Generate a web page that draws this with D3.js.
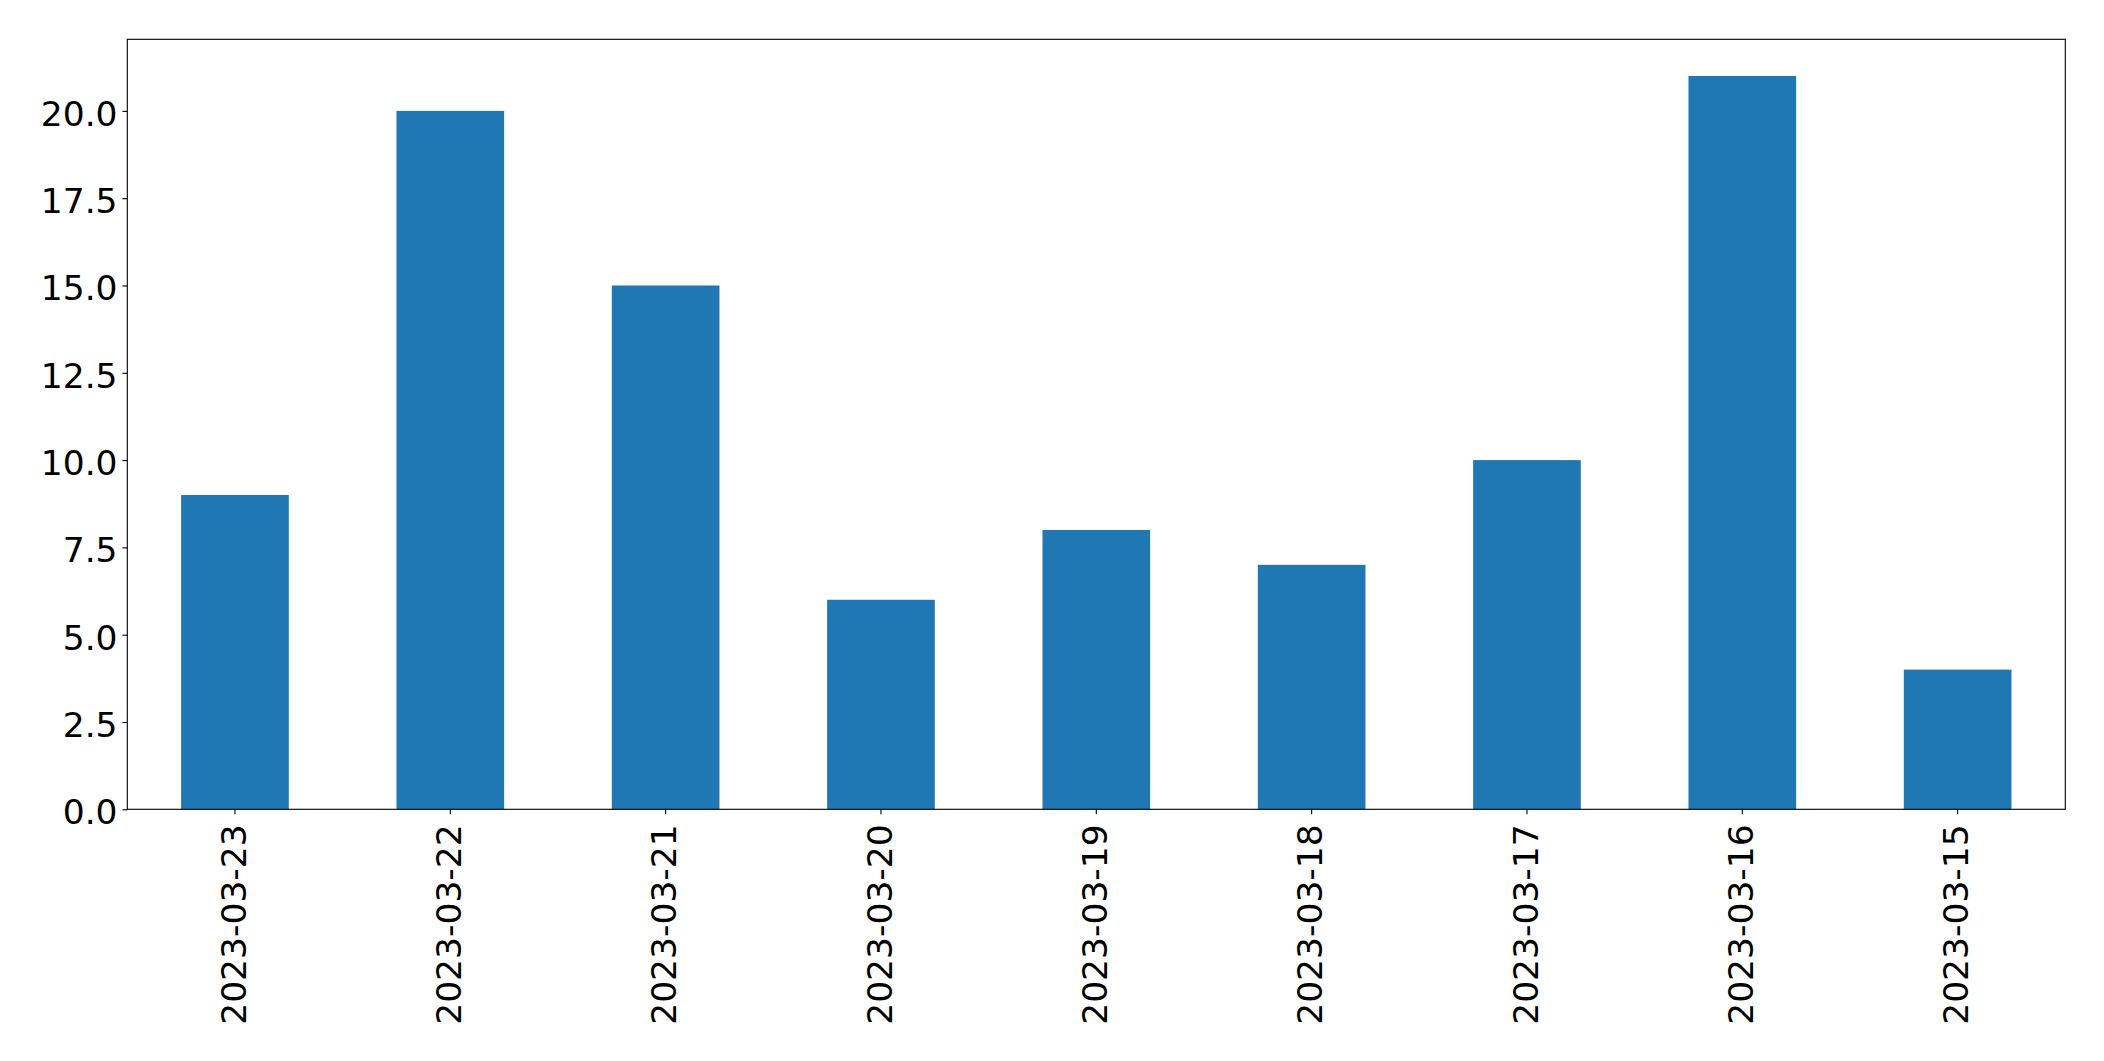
<!DOCTYPE html>
<html>
<head>
<meta charset="utf-8">
<script src="https://cdn.jsdelivr.net/npm/d3@7"></script>
<style>
  html, body { margin: 0; padding: 0; background: #fff; }
  svg { display: block; }
  text { font-family: "DejaVu Sans", sans-serif; fill: #000; }
</style>
</head>
<body>
<svg id="chart" width="2104" height="1061"></svg>
<script>
const categories = ["2023-03-23", "2023-03-22", "2023-03-21", "2023-03-20", "2023-03-19", "2023-03-18", "2023-03-17", "2023-03-16", "2023-03-15"];
const values = [9, 20, 15, 6, 8, 7, 10, 21, 4];
const yTicks = [0, 2.5, 5, 7.5, 10, 12.5, 15, 17.5, 20];

const W = 2104, H = 1061;
const margin = { left: 127.3, right: W - 2065.3, top: 39.3, bottom: H - 809.3 };
const svg = d3.select("#chart");
const iw = W - margin.left - margin.right;
const ih = H - margin.top - margin.bottom;
const g = svg.append("g").attr("transform", `translate(${margin.left},${margin.top})`);

const fontPx = 34.5;
const tickLen = 3.5 * 100 / 72;
const tickPad = 3.5 * 100 / 72;
const lw = 0.8 * 100 / 72;

const x = d3.scaleBand().domain(categories).range([0, iw]).paddingInner(0.5).paddingOuter(0.25);
const yMax = d3.max(values) * 1.05;
const y = d3.scaleLinear().domain([0, yMax]).range([ih, 0]);

g.selectAll("rect.bar").data(values).enter().append("rect")
  .attr("class", "bar")
  .attr("x", (d, i) => x(categories[i]))
  .attr("width", x.bandwidth())
  .attr("y", d => y(d))
  .attr("height", d => y(0) - y(d))
  .attr("fill", "#1f77b4");

// Y axis
const yAxis = d3.axisLeft(y).tickValues(yTicks).tickFormat(d3.format(".1f"))
  .tickSize(tickLen).tickPadding(tickPad);
const ya = g.append("g").call(yAxis);
ya.select(".domain").remove();
ya.selectAll(".tick line").attr("stroke", "#000").attr("stroke-width", lw);
ya.selectAll(".tick text").style("font-size", fontPx + "px").style("font-family", "DejaVu Sans")
  .attr("fill", "#000").attr("dy", "0.42em");

// X axis
const xAxis = d3.axisBottom(x).tickSize(tickLen).tickPadding(tickPad);
const xa = g.append("g").attr("transform", `translate(0,${ih})`).call(xAxis);
xa.select(".domain").remove();
xa.selectAll(".tick line").attr("stroke", "#000").attr("stroke-width", lw);
xa.selectAll(".tick text")
  .style("font-size", fontPx + "px").style("font-family", "DejaVu Sans").attr("fill", "#000")
  .attr("text-anchor", "end")
  .attr("x", 0).attr("y", 0).attr("dy", "0.31em")
  .attr("transform", `translate(0,15) rotate(-90)`);

// Frame
g.append("rect").attr("x", 0).attr("y", 0).attr("width", iw).attr("height", ih)
  .attr("fill", "none").attr("stroke", "#000").attr("stroke-width", lw);
</script>
</body>
</html>
